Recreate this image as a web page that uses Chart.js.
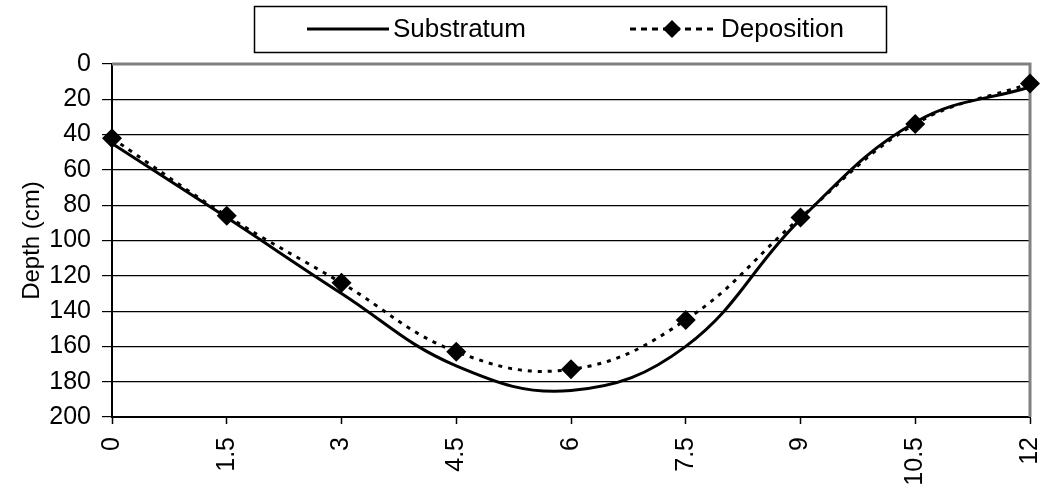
<!DOCTYPE html>
<html>
<head>
<meta charset="utf-8">
<script src="https://cdn.jsdelivr.net/npm/chart.js@4"></script>
<style>
  html, body { margin: 0; padding: 0; background: #fff; }
  #wrap { width: 1046px; height: 493px; }
</style>
</head>
<body>
<div id="wrap"><canvas id="myChart" width="1046" height="493"></canvas></div>
<script>
// data
const distance = [0, 1.5, 3, 4.5, 6, 7.5, 9, 10.5, 12]
const substratum = [45, 87, 130, 171, 185, 160, 88, 33, 13]
const deposition = [42, 86, 124, 163, 173, 145, 87, 34, 11]
const depthTicks = [0, 20, 40, 60, 80, 100, 120, 140, 160, 180, 200]

const font = "'Liberation Sans', Arial, sans-serif"

// pairs for the linear x axis
const toPoints = (ys) => distance.map((x, i) => ({x: x, y: ys[i]}))

// plot frame (gray top/right) drawn under the lines
const framePlugin = {
    id: 'frame',
    beforeDatasetsDraw(chart) {
        const a = chart.chartArea
        const ctx = chart.ctx
        ctx.save()
        ctx.strokeStyle = '#808080'
        ctx.lineWidth = 3
        ctx.beginPath()
        ctx.moveTo(a.left, a.top)
        ctx.lineTo(a.right, a.top)
        ctx.lineTo(a.right, a.bottom)
        ctx.stroke()
        ctx.restore()
    }
}

// legend box like the original one
const legendBox = {
    id: 'legendBox',
    afterDraw(chart) {
        const ctx = chart.ctx
        ctx.save()
        ctx.strokeStyle = '#000'
        ctx.lineWidth = 1.5
        ctx.strokeRect(254.5, 6.5, 632, 46)
        const y = 29
        // Substratum sample
        ctx.lineWidth = 3
        ctx.beginPath()
        ctx.moveTo(307, y)
        ctx.lineTo(389, y)
        ctx.stroke()
        // Deposition sample
        ctx.setLineDash([6, 5])
        ctx.beginPath()
        ctx.moveTo(630, y)
        ctx.lineTo(718, y)
        ctx.stroke()
        ctx.setLineDash([])
        ctx.fillStyle = '#000'
        ctx.beginPath()
        ctx.moveTo(672, y - 9)
        ctx.lineTo(681, y)
        ctx.lineTo(672, y + 9)
        ctx.lineTo(663, y)
        ctx.closePath()
        ctx.fill()
        ctx.font = '26px ' + font
        ctx.textBaseline = 'middle'
        ctx.fillText(chart.data.datasets[0].label, 393, y + 1)
        ctx.fillText(chart.data.datasets[1].label, 721, y + 1)
        ctx.restore()
    }
}

const config = {
    type: 'line',
    data: {
        datasets: [{
            label: 'Substratum',
            data: toPoints(substratum),
            borderColor: '#000',
            borderWidth: 3,
            pointRadius: 0,
            fill: false,
            tension: 0.4,
            clip: false,
        },
        {
            label: 'Deposition',
            data: toPoints(deposition),
            borderColor: '#000',
            backgroundColor: '#000',
            borderWidth: 3,
            borderDash: [4, 6],
            pointStyle: 'rectRot',
            pointRadius: 10,
            pointBackgroundColor: '#000',
            pointBorderWidth: 0,
            fill: false,
            tension: 0.4,
            clip: false,
        }]
    },
    plugins: [framePlugin, legendBox],
    options: {
        responsive: false,
        animation: false,
        layout: {
            padding: {top: 64, right: 16, left: 0, bottom: 0}
        },
        plugins: {
            legend: {display: false},
            tooltip: {enabled: false},
        },
        scales: {
            x: {
                type: 'linear',
                min: 0,
                max: 12,
                afterBuildTicks: (scale) => {
                    scale.ticks = distance.map(v => ({value: v}))
                },
                afterFit: (scale) => {
                    scale.height = 76
                    scale.paddingLeft = 0
                    scale.paddingRight = 0
                },
                ticks: {
                    color: '#000',
                    font: {family: font, size: 25},
                    minRotation: 90,
                    maxRotation: 90,
                    padding: 13,
                    callback: (v) => String(v),
                },
                grid: {
                    drawOnChartArea: false,
                    color: '#000',
                    tickLength: 7,
                    tickWidth: 1.5,
                },
                border: {color: '#000', width: 2},
            },
            y: {
                reverse: true,
                min: 0,
                max: 200,
                afterBuildTicks: (scale) => {
                    scale.ticks = depthTicks.map(v => ({value: v}))
                },
                afterFit: (scale) => { scale.width = 112 },
                title: {
                    display: true,
                    text: 'Depth (cm)',
                    color: '#000',
                    font: {family: font, size: 24},
                    padding: {top: 18, bottom: 0},
                },
                ticks: {
                    color: '#000',
                    font: {family: font, size: 25},
                    padding: 11,
                },
                grid: {
                    color: '#000',
                    lineWidth: 1.2,
                    tickLength: 10,
                },
                border: {color: '#000', width: 2},
            }
        }
    }
}

const myChart = new Chart(document.getElementById('myChart'), config)
</script>
</body>
</html>
